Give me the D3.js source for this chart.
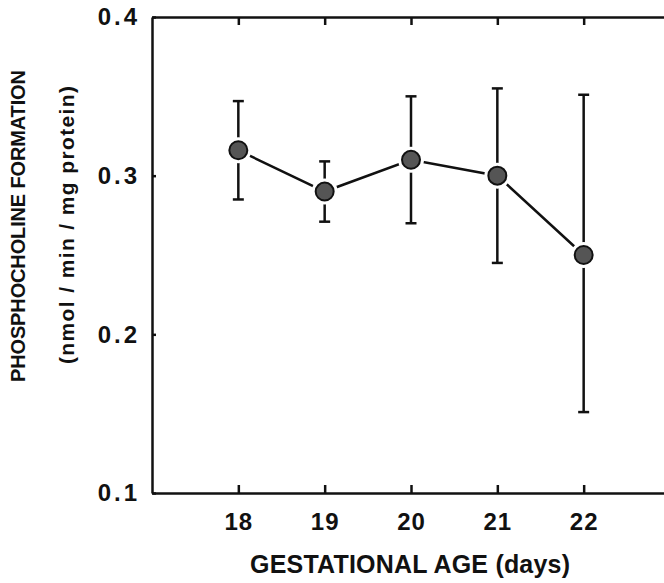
<!DOCTYPE html>
<html>
<head>
<meta charset="utf-8">
<script src="https://cdn.jsdelivr.net/npm/d3@7"></script>
<style>
  body { margin: 0; background: #fff; }
  text { font-family: "Liberation Sans", Arial, sans-serif; font-weight: bold; fill: #111; }
</style>
</head>
<body>
<div id="chart"></div>
<script>
// data
var ages = [18, 19, 20, 21, 22];
var means = [0.316, 0.290, 0.310, 0.300, 0.250];
var upper = [0.347, 0.309, 0.350, 0.355, 0.351];
var lower = [0.285, 0.271, 0.270, 0.245, 0.151];
var yTicks = [0.1, 0.2, 0.3, 0.4];

function init() {
    var w = 664;
    var h = 583;
    var left = 152, right = 670, top = 17, bottom = 493;

    var svg = d3.select("#chart")
        .append("svg")
        .attr("width", w)
        .attr("height", h)
        .style("background", "#fff");

    var xScale = d3.scaleLinear()
        .domain([17, 23])
        .range([left, right]);

    var yScale = d3.scaleLinear()
        .domain([0.1, 0.4])
        .range([bottom, top]);

    var dataset = ages.map(function(a, i) {
        return { age: a, mean: means[i], hi: upper[i], lo: lower[i] };
    });

    // frame axes, ticks pointing inward
    var xAxis = d3.axisBottom(xScale)
        .tickValues(ages)
        .tickSizeInner(-8)
        .tickSizeOuter(0)
        .tickPadding(20)
        .tickFormat(d3.format("d"));

    var gx = svg.append("g")
        .attr("transform", "translate(0," + bottom + ")")
        .call(xAxis);
    gx.selectAll("text").attr("font-size", "24px").attr("letter-spacing", "1px");

    var yAxis = d3.axisLeft(yScale)
        .tickValues(yTicks)
        .tickSizeInner(-4)
        .tickSizeOuter(0)
        .tickPadding(12)
        .tickFormat(d3.format(".1f"));

    var gy = svg.append("g")
        .attr("transform", "translate(" + left + ",0)")
        .call(yAxis);
    gy.selectAll("text").attr("font-size", "24px").attr("letter-spacing", "3px");

    svg.append("g")
        .attr("transform", "translate(0," + top + ")")
        .call(d3.axisTop(xScale).tickValues(ages).tickSizeInner(-8).tickSizeOuter(0).tickFormat(""));

    svg.append("g")
        .attr("transform", "translate(" + right + ",0)")
        .call(d3.axisRight(yScale).tickValues([0.2, 0.3]).tickSizeInner(-6).tickSizeOuter(0).tickFormat(""));

    svg.selectAll(".domain").attr("stroke", "#111").attr("stroke-width", 2.5);
    svg.selectAll(".tick line").attr("stroke", "#111").attr("stroke-width", 2.5);

    // connecting line
    var line = d3.line()
        .x(function(d) { return xScale(d.age); })
        .y(function(d) { return yScale(d.mean); });

    svg.append("path")
        .datum(dataset)
        .attr("d", line)
        .attr("fill", "none")
        .attr("stroke", "#111")
        .attr("stroke-width", 2.5);

    // error bars
    var bars = svg.append("g").selectAll("g")
        .data(dataset)
        .enter()
        .append("g");

    bars.append("line")
        .attr("x1", function(d) { return xScale(d.age); })
        .attr("x2", function(d) { return xScale(d.age); })
        .attr("y1", function(d) { return yScale(d.hi); })
        .attr("y2", function(d) { return yScale(d.lo); })
        .attr("stroke", "#111")
        .attr("stroke-width", 2.5);

    bars.selectAll(".cap")
        .data(function(d) { return [{ age: d.age, v: d.hi }, { age: d.age, v: d.lo }]; })
        .enter()
        .append("line")
        .attr("class", "cap")
        .attr("x1", function(d) { return xScale(d.age) - 5.5; })
        .attr("x2", function(d) { return xScale(d.age) + 5.5; })
        .attr("y1", function(d) { return yScale(d.v); })
        .attr("y2", function(d) { return yScale(d.v); })
        .attr("stroke", "#111")
        .attr("stroke-width", 2.5);

    // white halo so lines stop short of the markers
    svg.append("g").selectAll("circle")
        .data(dataset)
        .enter()
        .append("circle")
        .attr("cx", function(d) { return xScale(d.age); })
        .attr("cy", function(d) { return yScale(d.mean); })
        .attr("r", 13)
        .attr("fill", "#fff");

    svg.append("g").selectAll("circle")
        .data(dataset)
        .enter()
        .append("circle")
        .attr("cx", function(d) { return xScale(d.age); })
        .attr("cy", function(d) { return yScale(d.mean); })
        .attr("r", 9)
        .attr("fill", "#555")
        .attr("stroke", "#111")
        .attr("stroke-width", 2);

    // axis titles
    svg.append("text")
        .attr("text-anchor", "middle")
        .attr("x", 410)
        .attr("y", 573)
        .attr("font-size", "25px")
        .attr("textLength", 320)
        .text("GESTATIONAL AGE (days)");

    svg.append("text")
        .attr("text-anchor", "middle")
        .attr("transform", "translate(25,226) rotate(-90)")
        .attr("font-size", "20px")
        .attr("textLength", 312)
        .text("PHOSPHOCHOLINE FORMATION");

    svg.append("text")
        .attr("text-anchor", "middle")
        .attr("transform", "translate(74,225) rotate(-90)")
        .attr("font-size", "21px")
        .attr("textLength", 278)
        .text("(nmol / min / mg protein)");
}
window.onload = init;
</script>
</body>
</html>
